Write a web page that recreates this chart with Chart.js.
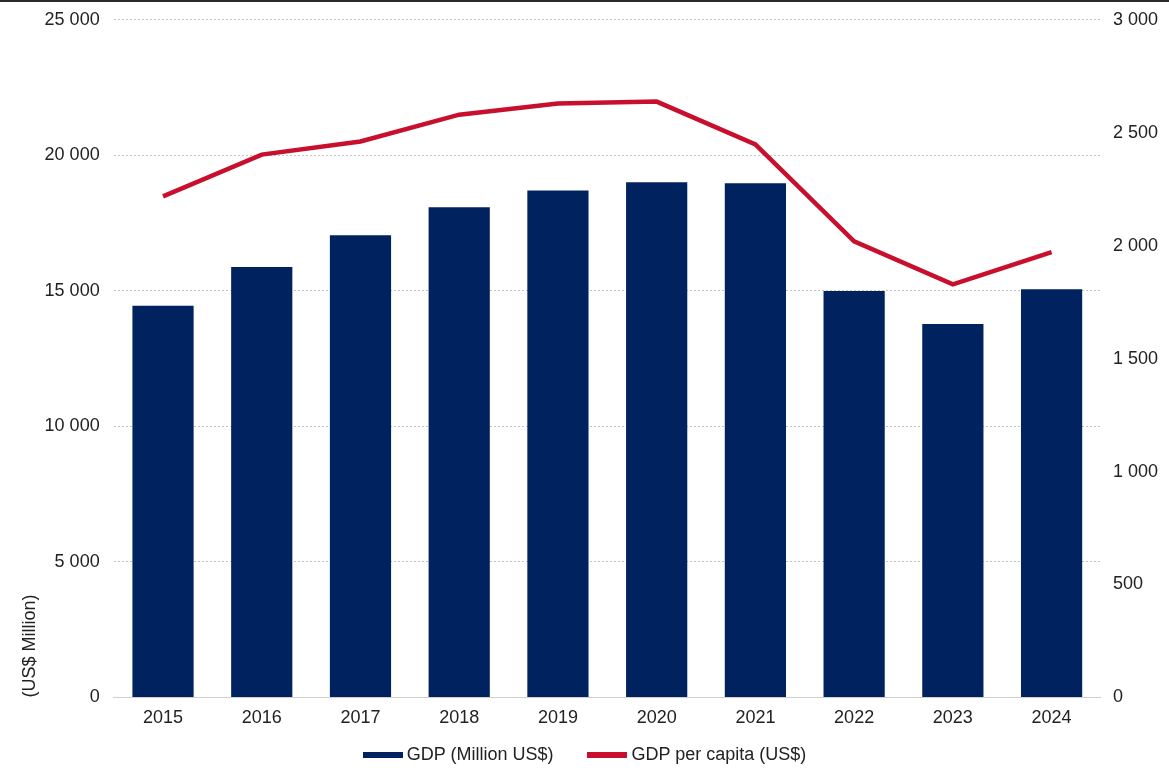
<!DOCTYPE html>
<html>
<head>
<meta charset="utf-8">
<script src="https://cdn.jsdelivr.net/npm/chart.js@4/dist/chart.umd.min.js"></script>
<style>
  html, body { margin: 0; padding: 0; background: #fff; overflow: hidden; }
  #wrap { position: relative; width: 1169px; height: 779px; overflow: hidden; font-family: "Liberation Sans", Arial, Helvetica, sans-serif; }
  #gdp-chart { position: absolute; left: 0; top: -5px; }
  #topline { position: absolute; left: 0; top: 0; width: 1169px; height: 2px; background: #2a2a2a; }
  #legend { position: absolute; left: 0; top: 744px; width: 1169px; display: flex; justify-content: center; align-items: center; font-size: 18px; color: #222; }
  #legend .item { display: flex; align-items: center; margin: 0 17px; }
  #legend .swatch { width: 40px; height: 6px; margin-right: 4px; }
</style>
</head>
<body>
<div id="wrap">
  <canvas id="gdp-chart" width="1169" height="784"></canvas>
  <div id="topline"></div>
  <div id="legend"></div>
</div>
<script>
// data
const years = ['2015', '2016', '2017', '2018', '2019', '2020', '2021', '2022', '2023', '2024'];
const gdpMillion = [14450, 15880, 17050, 18080, 18700, 19010, 18970, 14990, 13780, 15060];
const gdpPerCapita = [2218, 2403, 2461, 2580, 2629, 2638, 2448, 2019, 1829, 1971];

const navy = '#00235f';
const red = '#c8102e';
const fontFamily = '"Liberation Sans", Arial, Helvetica, sans-serif';

function spaced(v) {
  return String(v).replace(/\B(?=(\d{3})+(?!\d))/g, ' ');
}

window.addEventListener('load', function () {
  var ctx = document.getElementById('gdp-chart');
  var gdpChart = new Chart(ctx, {
    data: {
      labels: years,
      datasets: [
        {
          type: 'bar',
          label: 'GDP (Million US$)',
          data: gdpMillion,
          backgroundColor: navy,
          yAxisID: 'y',
          barPercentage: 0.62,
          categoryPercentage: 1,
          order: 1
        },
        {
          type: 'line',
          label: 'GDP per capita (US$)',
          data: gdpPerCapita,
          borderColor: red,
          backgroundColor: red,
          borderWidth: 4.5,
          pointRadius: 0,
          tension: 0,
          yAxisID: 'y1',
          order: 0
        }
      ]
    },
    options: {
      responsive: false,
      animation: false,
      layout: { padding: { top: 0, right: -1, left: 0, bottom: 48 } },
      plugins: {
        tooltip: { enabled: false },
        legend: { display: false }
      },
      scales: {
        x: {
          grid: { display: false },
          border: { display: true, color: '#cfcfcf' },
          ticks: { color: '#222', font: { family: fontFamily, size: 18 }, padding: 2 }
        },
        y: {
          position: 'left',
          min: 0,
          max: 25000,
          border: { display: false },
          grid: { color: '#c4c4c4', lineWidth: 1, drawTicks: false },
          ticks: {
            stepSize: 5000,
            color: '#222',
            padding: 14,
            font: { family: fontFamily, size: 18 },
            callback: function (v) { return spaced(v); }
          },
          title: {
            display: true,
            text: '(US$ Million)',
            align: 'start',
            color: '#222',
            font: { family: fontFamily, size: 18 },
            padding: { top: 19, bottom: -10 }
          }
        },
        y1: {
          position: 'right',
          min: 0,
          max: 3000,
          border: { display: false },
          grid: { display: false, drawTicks: false },
          ticks: {
            stepSize: 500,
            color: '#222',
            padding: 12,
            font: { family: fontFamily, size: 18 },
            callback: function (v) { return spaced(v); }
          }
        }
      }
    }
  });

  // dotted gridlines like the original
  gdpChart.options.scales.y.grid.borderDash = [2, 2];
  gdpChart.options.scales.y.border.dash = [2, 2];
  gdpChart.update();

  // legend built from the datasets
  var legendEl = document.getElementById('legend');
  gdpChart.data.datasets.forEach(function (ds) {
    var item = document.createElement('div');
    item.className = 'item';
    var sw = document.createElement('span');
    sw.className = 'swatch';
    sw.style.background = ds.type === 'line' ? ds.borderColor : ds.backgroundColor;
    var txt = document.createElement('span');
    txt.textContent = ds.label;
    item.appendChild(sw);
    item.appendChild(txt);
    legendEl.appendChild(item);
  });
});
</script>
</body>
</html>
